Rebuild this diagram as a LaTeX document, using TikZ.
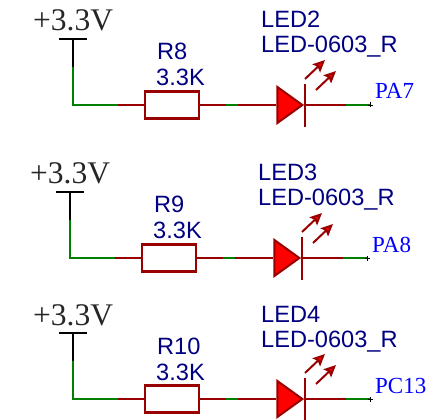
\documentclass[tikz,border=0pt]{standalone}
\usepackage{fontspec}
\setmainfont{Liberation Sans}
\newfontfamily\serifface{Liberation Serif}
\usetikzlibrary{arrows.meta,shapes.geometric}
\definecolor{wirered}{RGB}{153,0,0}
\definecolor{wiregreen}{RGB}{0,128,0}
\definecolor{textnavy}{RGB}{0,0,128}
\definecolor{netblue}{RGB}{0,0,255}
\begin{document}
\begin{tikzpicture}[
        x=1pt, y=-1pt,
        power/.style={anchor=base west, inner sep=0pt, font=\serifface\fontsize{31.5}{32}\selectfont, text=black!85},
        part/.style={anchor=base west, inner sep=0pt, font=\fontsize{23.6}{24}\selectfont, text=textnavy},
        net/.style={anchor=base west, inner sep=0pt, font=\serifface\fontsize{23}{23}\selectfont, text=netblue},
        resistor/.style={rectangle, draw=wirered, line width=2.4pt, minimum width=54pt, minimum height=27pt, inner sep=0pt},
        led/.style={isosceles triangle, isosceles triangle stretches, anchor=apex, draw=wirered, fill=red, line width=2pt, minimum width=36pt, minimum height=25pt, inner sep=0pt},
        redwire/.style={draw=wirered, line width=2.4pt},
        greenwire/.style={draw=wiregreen, line width=2.4pt},
        blackwire/.style={draw=black, line width=2.4pt},
        ray/.style={draw=wirered, line width=2pt, -{Stealth[length=12pt, width=11pt, inset=2pt, fill=red]}},
      ]
      \useasboundingbox (0,0) rectangle (440,420);

      %Nodes
      \node[power] (v1) at (33,31) {+3.3V};
      \node[part] (r8name) at (157,60) {R8};
      \node[part] (r8val) at (156,86) {3.3K};
      \node[part] (led2name) at (261,28) {LED2};
      \node[part] (led2type) at (261,53) {LED-0603\_R};
      \node[net] (pa7) at (375,99) {PA7};
      \node[resistor] (r8) at (172,105) {};
      \node[led] (led2) at (305,105) {};

      \node[power] (v2) at (30,184) {+3.3V};
      \node[part] (r9name) at (154,213) {R9};
      \node[part] (r9val) at (153,239) {3.3K};
      \node[part] (led3name) at (258,181) {LED3};
      \node[part] (led3type) at (258,206) {LED-0603\_R};
      \node[net] (pa8) at (372,252) {PA8};
      \node[resistor] (r9) at (169,258) {};
      \node[led] (led3) at (302,258) {};

      \node[power] (v3) at (33,325) {+3.3V};
      \node[part] (r10name) at (157,354) {R10};
      \node[part] (r10val) at (156,380) {3.3K};
      \node[part] (led4name) at (261,322) {LED4};
      \node[part] (led4type) at (261,347) {LED-0603\_R};
      \node[net] (pc13) at (375,393) {PC13};
      \node[resistor] (r10) at (172,399) {};
      \node[led] (led4) at (305,399) {};

      %Points
      \coordinate (bl1) at (59,39);   \coordinate (br1) at (87,39);   \coordinate (top1) at (73,39);
      \coordinate (mid1) at (73,67);  \coordinate (low1) at (73,105); \coordinate (a1) at (118,105);
      \coordinate (b1) at (226,105);  \coordinate (c1) at (238,105);  \coordinate (d1) at (346,105);
      \coordinate (end1) at (370,105);
      \coordinate (kt1) at (305,84);  \coordinate (kb1) at (305,127);
      \coordinate (s1) at (305,79);   \coordinate (t1) at (325,60);
      \coordinate (u1) at (316,90);   \coordinate (w1) at (336,71);

      \coordinate (bl2) at (56,192);  \coordinate (br2) at (84,192);  \coordinate (top2) at (70,192);
      \coordinate (mid2) at (70,220); \coordinate (low2) at (70,258); \coordinate (a2) at (115,258);
      \coordinate (b2) at (223,258);  \coordinate (c2) at (235,258);  \coordinate (d2) at (343,258);
      \coordinate (end2) at (367,258);
      \coordinate (kt2) at (302,237); \coordinate (kb2) at (302,280);
      \coordinate (s2) at (302,232);  \coordinate (t2) at (322,213);
      \coordinate (u2) at (313,243);  \coordinate (w2) at (333,224);

      \coordinate (bl3) at (59,333);  \coordinate (br3) at (87,333);  \coordinate (top3) at (73,333);
      \coordinate (mid3) at (73,361); \coordinate (low3) at (73,399); \coordinate (a3) at (118,399);
      \coordinate (b3) at (226,399);  \coordinate (c3) at (238,399);  \coordinate (d3) at (346,399);
      \coordinate (end3) at (370,399);
      \coordinate (kt3) at (305,378); \coordinate (kb3) at (305,421);
      \coordinate (s3) at (305,373);  \coordinate (t3) at (325,354);
      \coordinate (u3) at (316,384);  \coordinate (w3) at (336,365);

      %Lines
      \draw[blackwire] (bl1) -- (br1);
      \draw[blackwire] (top1) -- (mid1);
      \draw[greenwire, line join=miter] (mid1) -- (low1) -- (a1);
      \draw[redwire] (a1) -- (r8);
      \draw[redwire] (r8) -- (b1);
      \draw[greenwire] (b1) -- (c1);
      \draw[redwire] (c1) -- (led2.west);
      \draw[redwire] (kt1) -- (kb1);
      \draw[redwire] (led2.apex) -- (d1);
      \draw[greenwire] (d1) -- (end1);
      \draw[black, thin] (end1) ++(-2.5,0) -- ++(5,0) (end1) ++(0,-2.5) -- ++(0,5);
      \draw[ray] (s1) -- (t1);
      \draw[ray] (u1) -- (w1);

      \draw[blackwire] (bl2) -- (br2);
      \draw[blackwire] (top2) -- (mid2);
      \draw[greenwire] (mid2) -- (low2) -- (a2);
      \draw[redwire] (a2) -- (r9);
      \draw[redwire] (r9) -- (b2);
      \draw[greenwire] (b2) -- (c2);
      \draw[redwire] (c2) -- (led3.west);
      \draw[redwire] (kt2) -- (kb2);
      \draw[redwire] (led3.apex) -- (d2);
      \draw[greenwire] (d2) -- (end2);
      \draw[black, thin] (end2) ++(-2.5,0) -- ++(5,0) (end2) ++(0,-2.5) -- ++(0,5);
      \draw[ray] (s2) -- (t2);
      \draw[ray] (u2) -- (w2);

      \draw[blackwire] (bl3) -- (br3);
      \draw[blackwire] (top3) -- (mid3);
      \draw[greenwire] (mid3) -- (low3) -- (a3);
      \draw[redwire] (a3) -- (r10);
      \draw[redwire] (r10) -- (b3);
      \draw[greenwire] (b3) -- (c3);
      \draw[redwire] (c3) -- (led4.west);
      \draw[redwire] (kt3) -- (kb3);
      \draw[redwire] (led4.apex) -- (d3);
      \draw[greenwire] (d3) -- (end3);
      \draw[black, thin] (end3) ++(-2.5,0) -- ++(5,0) (end3) ++(0,-2.5) -- ++(0,5);
      \draw[ray] (s3) -- (t3);
      \draw[ray] (u3) -- (w3);
    \end{tikzpicture}
\end{document}
